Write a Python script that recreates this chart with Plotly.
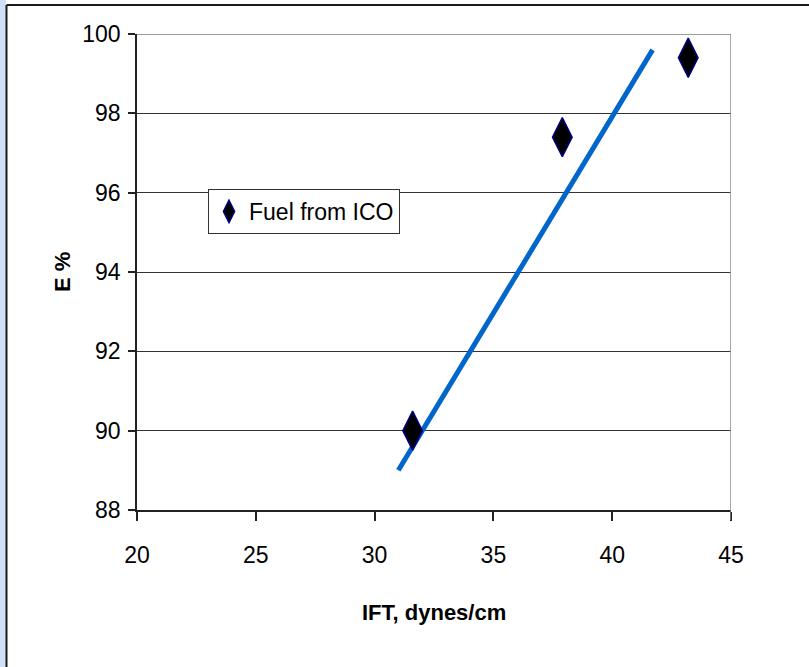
import plotly.graph_objects as go

# Measured points
ift = [31.6, 37.9, 43.2]          # IFT, dynes/cm
efficiency = [90.0, 97.4, 99.4]   # E %

# Trend line end points
trend_x = [31.0, 41.7]
trend_y = [89.0, 99.6]

x_ticks = [20, 25, 30, 35, 40, 45]
y_ticks = [88, 90, 92, 94, 96, 98, 100]

FONT = "Liberation Sans, Arial, sans-serif"

W, H = 809, 667
ML, MR, MT, MB = 137, 78, 34, 157
PW, PH = W - ML - MR, H - MT - MB


def px(xp):
    return (xp - ML) / PW


def py(yp):
    return (H - MB - yp) / PH


fig = go.Figure()

fig.add_trace(go.Scatter(
    x=trend_x, y=trend_y, mode="lines",
    line=dict(color="#0066CC", width=5),
    showlegend=False, hoverinfo="skip",
))

fig.add_trace(go.Scatter(
    x=ift, y=efficiency, mode="markers", name="Fuel from ICO",
    marker=dict(symbol="diamond-tall", size=28, color="black",
                line=dict(color="#000080", width=1.5)),
))

# slide frame: blue strip on the left, dark frame lines
shapes = [
    dict(type="rect", xref="paper", yref="paper",
         x0=px(0), x1=px(6), y0=py(H), y1=py(0),
         fillcolor="#CFE1F4", line=dict(width=0), layer="below"),
    dict(type="line", xref="paper", yref="paper",
         x0=px(6.5), x1=px(6.5), y0=py(H), y1=py(5),
         line=dict(color="#1A1A1A", width=2)),
    dict(type="line", xref="paper", yref="paper",
         x0=px(6.5), x1=px(W), y0=py(5), y1=py(5),
         line=dict(color="#1A1A1A", width=2)),
    # grey top and right borders of the plot area
    dict(type="line", xref="x", yref="y",
         x0=x_ticks[0], x1=x_ticks[-1], y0=y_ticks[-1], y1=y_ticks[-1],
         line=dict(color="#9A9A9A", width=2)),
    dict(type="line", xref="x", yref="paper",
         x0=x_ticks[-1], x1=x_ticks[-1], y0=py(520), y1=1,
         line=dict(color="#8A8A8A", width=1.5)),
]

annotations = [
    dict(text="<b>IFT, dynes/cm</b>", xref="paper", yref="paper",
         x=0.5, y=py(612), xanchor="center", yanchor="middle",
         showarrow=False, font=dict(family=FONT, size=22, color="black")),
    dict(text="<b>E %</b>", xref="paper", yref="paper",
         x=px(62), y=0.5, xanchor="center", yanchor="middle",
         textangle=-90, showarrow=False,
         font=dict(family=FONT, size=22, color="black")),
]

fig.update_layout(
    width=W, height=H,
    margin=dict(l=ML, r=MR, t=MT, b=MB, pad=0),
    paper_bgcolor="white", plot_bgcolor="white",
    font=dict(family=FONT, size=23, color="black"),
    shapes=shapes, annotations=annotations,
    showlegend=True,
    legend=dict(x=px(208), y=py(189), xanchor="left", yanchor="top",
                bgcolor="white", bordercolor="#333333", borderwidth=1,
                font=dict(family=FONT, size=23, color="black")),
)

fig.update_xaxes(
    range=[x_ticks[0], x_ticks[-1]], tickvals=x_ticks,
    showline=True, linecolor="#222222", linewidth=1.5,
    ticks="outside", ticklen=9, tickcolor="#222222", tickwidth=1.5,
    ticklabelstandoff=15,
    showgrid=False, zeroline=False,
)
fig.update_yaxes(
    range=[y_ticks[0], y_ticks[-1]], tickvals=y_ticks,
    showline=True, linecolor="#222222", linewidth=1.5,
    ticks="outside", ticklen=7, tickcolor="#222222", tickwidth=1.5,
    ticklabelstandoff=3,
    showgrid=True, gridcolor="#333333", gridwidth=1,
    zeroline=False,
)

fig.write_html("out.html")
